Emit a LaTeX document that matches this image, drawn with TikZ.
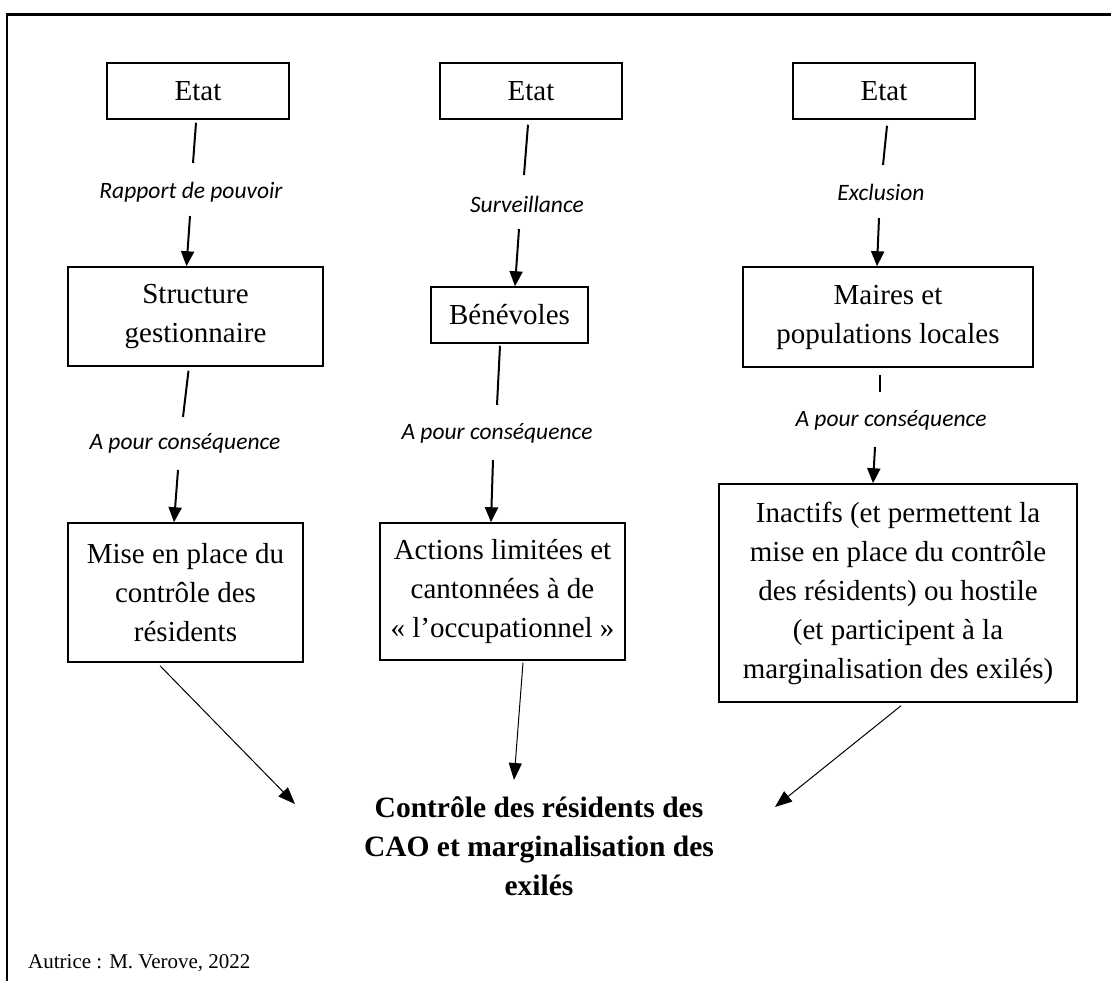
\documentclass[tikz,border=0pt]{standalone}
\usepackage{fontspec}
\setmainfont{Liberation Serif}
\newfontfamily\labfont{Carlito}
\usetikzlibrary{calc,arrows.meta}
\begin{document}
\begin{tikzpicture}[x=1pt,y=-1pt,
 box/.style={draw,line width=1.5pt,inner sep=0pt,align=center,font=\fontsize{29}{39}\selectfont},
 lab/.style={inner sep=0pt,font=\labfont\itshape\fontsize{23.5}{28}\selectfont},
 seg/.style={line width=2pt},
 arr/.style={line width=2pt,-{Triangle[length=15pt,width=13pt]}},
 darr/.style={line width=1pt,-{Triangle[length=17pt,width=13pt]}}]
\useasboundingbox (0,0) rectangle (1111,981);
% frame
\draw[line width=2.5pt] (7,981) -- (7,14.5) -- (1111,14.5);

% column 1
\node[box,minimum width=182pt,minimum height=56pt] (E1) at (198,91) {Etat};
\node[lab] (L1) at (191,192) {Rapport de pouvoir};
\node[box,minimum width=255pt,minimum height=99pt] (SG) at (195.5,316.5) {Structure\\gestionnaire};
\node[lab] (L2) at (185,443) {A pour conséquence};
\node[box,minimum width=235pt,minimum height=139pt] (M1) at (185.5,592.5) {Mise en place du\\contrôle des\\résidents};

% column 2
\node[box,minimum width=182pt,minimum height=56pt] (E2) at (531,91) {Etat};
\node[lab] (L3) at (527,204) {Surveillance};
\node[box,minimum width=157pt,minimum height=56pt] (B) at (509.5,315) {Bénévoles};
\node[lab] (L4) at (497,433) {A pour conséquence};
\node[box,minimum width=245pt,minimum height=137pt] (A) at (502.5,591.5) {Actions limitées et\\cantonnées à de\\« l’occupationnel »};

% column 3
\node[box,minimum width=182pt,minimum height=56pt] (E3) at (884,91) {Etat};
\node[lab] (L5) at (881,192) {Exclusion};
\node[box,minimum width=290pt,minimum height=100pt] (Ma) at (888,317) {Maires et\\populations locales};
\node[lab] (L6) at (891,420) {A pour conséquence};
\node[box,minimum width=358pt,minimum height=218pt] (I) at (898,593) {Inactifs (et permettent la\\mise en place du contrôle\\des résidents) ou hostile\\(et participent à la\\marginalisation des exilés)};

% result
\node[align=center,inner sep=0pt,font=\bfseries\fontsize{29.5}{39}\selectfont] (T) at (539,846) {Contrôle des résidents des\\CAO et marginalisation des\\exilés};
\node[anchor=base west,inner sep=0pt,font=\fontsize{21}{24}\selectfont] (S) at (28,968) {Autrice : M. Verove, 2022};

% connectors column 1
\draw[seg] ($(E1.south)+(-2,3)$) -- ($(L1)+(2,-29)$);
\draw[arr] ($(L1)+(-1,24)$) -- ($(SG.north)+(-9,0)$);
\draw[seg] ($(SG.south)+(-7,4)$) -- ($(L2)+(-2,-26)$);
\draw[arr] ($(L2)+(-7,27)$) -- ($(M1.north)+(-11.5,0)$);
% connectors column 2
\draw[seg] ($(E2.south)+(-3,5)$) -- ($(L3)+(-3,-29)$);
\draw[arr] ($(L3)+(-8,25)$) -- ($(B.north)+(5.5,0)$);
\draw[seg] ($(B.south)+(-9.5,2)$) -- ($(L4)+(0,-28)$);
\draw[arr] ($(L4)+(-4,27)$) -- ($(A.north)+(-11.5,0)$);
% connectors column 3
\draw[seg] ($(E3.south)+(3,6)$) -- ($(L5)+(2,-27)$);
\draw[arr] ($(L5)+(-2,26)$) -- ($(Ma.north)+(-11,0)$);
\draw[seg] ($(Ma.south)+(-8,7)$) -- ($(L6)+(-11,-28)$);
\draw[arr] ($(L6)+(-16,27)$) -- ($(I.north)+(-25,0)$);
% diagonals to result
\draw[darr] ($(M1.south)+(-25.5,3)$) -- ($(T)+(-244,-42)$);
\draw[darr] ($(A.south)+(20.5,2)$) -- ($(T)+(-25,-66)$);
\draw[darr] ($(I.south)+(3,3)$) -- ($(T)+(236,-39)$);
\end{tikzpicture}
\end{document}
